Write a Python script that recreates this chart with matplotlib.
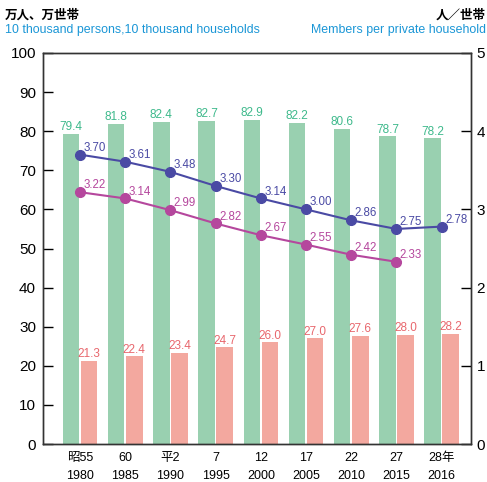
import numpy as np
import matplotlib.pyplot as plt

# data
era_labels = ["昭55", "60", "平2", "7", "12", "17", "22", "27", "28年"]
year_labels = ["1980", "1985", "1990", "1995", "2000", "2005", "2010", "2015", "2016"]
population = [79.4, 81.8, 82.4, 82.7, 82.9, 82.2, 80.6, 78.7, 78.2]
households = [21.3, 22.4, 23.4, 24.7, 26.0, 27.0, 27.6, 28.0, 28.2]
members_a = [3.70, 3.61, 3.48, 3.30, 3.14, 3.00, 2.86, 2.75, 2.78]
members_b = [3.22, 3.14, 2.99, 2.82, 2.67, 2.55, 2.42, 2.33]

NARROW = ["Liberation Sans Narrow", "Liberation Sans", "Noto Sans CJK JP"]
REGULAR = ["Liberation Sans", "Noto Sans CJK JP"]
CJK = ["Noto Sans CJK JP", "Liberation Sans"]

green = "#99d0b0"
pink = "#f3a89f"
green_txt = "#3db98b"
pink_txt = "#e8676d"
blue = "#4a4aa4"
magenta = "#b5479d"
head_blue = "#1a96d6"

plt.rcParams["font.family"] = REGULAR

fig = plt.figure(figsize=(4.87, 4.82), dpi=100)
ax1 = fig.add_axes([43 / 487, 38 / 482, 428 / 487, 391 / 482])
ax2 = ax1.twinx()

x = np.arange(len(population))
w = 0.365
ax1.bar(x - 0.2, population, width=w, color=green, zorder=2)
ax1.bar(x + 0.2, households, width=w, color=pink, zorder=2)
for xi, v in zip(x, population):
    ax1.annotate(f"{v:.1f}", (xi - 0.2, v), xytext=(0, 0.5), textcoords="offset points",
                 ha="center", va="bottom", fontsize=8.5, color=green_txt, family=NARROW)
for xi, v in zip(x, households):
    ax1.annotate(f"{v:.1f}", (xi + 0.2, v), xytext=(0, 0.5), textcoords="offset points",
                 ha="center", va="bottom", fontsize=8.5, color=pink_txt, family=NARROW)

ax1.set_ylim(0, 100)
ax1.set_yticks(np.arange(0, 101, 10))
ax1.set_xlim(-0.82, 8.65)
ax1.set_xticks(x)
ax1.set_xticklabels([])
ax1.tick_params(axis="x", length=0)
ax1.tick_params(axis="y", direction="in", length=7, width=1, labelsize=11, pad=5)

# two-line category labels
for xi, era, yr in zip(x, era_labels, year_labels):
    ax1.text(xi, -0.036, era, transform=ax1.get_xaxis_transform(), ha="center", va="center",
             fontsize=9, family=NARROW)
    ax1.text(xi, -0.081, yr, transform=ax1.get_xaxis_transform(), ha="center", va="center",
             fontsize=9, family=NARROW)

# lines on right axis
ax2.plot(x, members_a, color=blue, lw=1.5, marker="o", ms=7, zorder=3)
ax2.plot(x[:len(members_b)], members_b, color=magenta, lw=1.5, marker="o", ms=7, zorder=3)
for xi, v in zip(x, members_a):
    ax2.annotate(f"{v:.2f}", (xi, v), xytext=(2.5, 5), textcoords="offset points",
                 ha="left", va="center", fontsize=8.3, color=blue, family=NARROW)
for xi, v in zip(x, members_b):
    ax2.annotate(f"{v:.2f}", (xi, v), xytext=(2.5, 5), textcoords="offset points",
                 ha="left", va="center", fontsize=8.3, color=magenta, family=NARROW)
ax2.set_ylim(0, 5)
ax2.set_yticks(np.arange(0, 6, 1))
ax2.tick_params(axis="y", direction="in", length=7, width=1, labelsize=11, pad=4)

for a in (ax1, ax2):
    for s in a.spines.values():
        s.set_color("#333333")
        s.set_linewidth(1.0)

# headers
fig.text(5 / 487, 1 - 15 / 482, "万人、万世帯", ha="left", va="center",
         fontsize=9, fontweight="bold", family=CJK)
fig.text(5 / 487, 1 - 30 / 482, "10 thousand persons,10 thousand households", ha="left",
         va="center", fontsize=8.9, color=head_blue)
fig.text(486 / 487, 1 - 15 / 482, "人／世帯", ha="right", va="center",
         fontsize=9, fontweight="bold", family=CJK)
fig.text(486 / 487, 1 - 30 / 482, "Members per private household", ha="right",
         va="center", fontsize=8.9, color=head_blue)

fig.savefig("out.png", dpi=100)
